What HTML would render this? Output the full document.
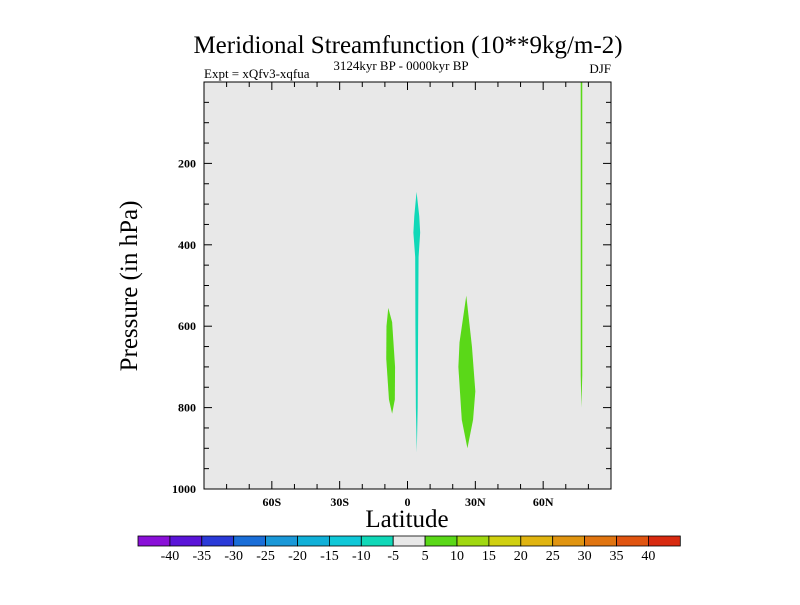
<!DOCTYPE html>
<html><head><meta charset="utf-8"><style>
body{margin:0;background:#fff;}
svg text{font-family:"Liberation Serif",serif;}
</style></head><body>
<svg id="chart" width="800" height="600" viewBox="0 0 800 600" xmlns="http://www.w3.org/2000/svg">
<text x="408" y="53" font-size="25" text-anchor="middle">Meridional Streamfunction (10**9kg/m-2)</text>
<text x="204" y="78" font-size="13">Expt = xQfv3-xqfua</text>
<text x="401" y="70" font-size="13" text-anchor="middle">3124kyr BP - 0000kyr BP</text>
<text x="611" y="73" font-size="13" text-anchor="end">DJF</text>
<rect x="204" y="82" width="407" height="407" fill="#e8e8e8"/>
<g id="marks"></g>
<g id="axes"></g>
<rect x="204" y="82" width="407" height="407" fill="none" stroke="#000" stroke-width="1"/>
<text transform="translate(137,286) rotate(-90)" font-size="25" text-anchor="middle">Pressure (in hPa)</text>
<text x="407" y="527" font-size="25" text-anchor="middle">Latitude</text>
<g id="colorbar"></g>
</svg>
<script>
const xTicks=[-60,-30,0,30,60];
const xTickLabels=["60S","30S","0","30N","60N"];
const yTicks=[200,400,600,800,1000];
const cbLevels=[-40,-35,-30,-25,-20,-15,-10,-5,5,10,15,20,25,30,35,40];
const cbColors=["#8a10d8","#5a14d8","#2a3ad8","#1a6ed8","#1a98d8","#10b0d8","#10c8d8","#10d8b8","#e8e8e8","#5ad818","#a0d810","#d0d010","#e0b410","#e09410","#e07410","#e05410","#d82a10"];
// contour regions: [lat,p] points (clockwise outline)
const cyanLat=[4.0,5.2,5.6,4.9,4.7,4.5,4.1,3.7,3.5,3.4,2.6,3.0];
const cyanP=[270,330,370,430,600,800,910,800,600,430,370,330];
const greenLLat=[-8.5,-6.8,-5.5,-5.6,-6.8,-8.2,-9.4,-9.3];
const greenLP=[555,590,700,780,815,780,680,600];
const greenRLat=[26,28.5,30,29,26.5,24,22.5,23];
const greenRP=[525,650,760,830,900,830,700,640];
const lineLat=[76.6,77.3,77.3,76.9,76.6];
const lineP=[0,0,720,800,720];
const NS="http://www.w3.org/2000/svg";
const X0=204,X1=611,Y0=82,Y1=489;
const sx=l=>X0+(l+90)/180*(X1-X0);
const sy=p=>Y0+p/1000*(Y1-Y0);
function poly(lats,ps,fill,name){
  const el=document.createElementNS(NS,"polygon");
  el.setAttribute("points",lats.map((l,i)=>sx(l)+","+sy(ps[i])).join(" "));
  el.setAttribute("fill",fill);
  
  
  document.getElementById("marks").appendChild(el);
}
poly(cyanLat,cyanP,"#10d8b8","contour-negative-equator");
poly(greenLLat,greenLP,"#5ad818","contour-positive-south");
poly(greenRLat,greenRP,"#5ad818","contour-positive-north");
poly(lineLat,lineP,"#5ad818","contour-positive-polar");
const ax=document.getElementById("axes");
function line(x1,y1,x2,y2,name){
  const l=document.createElementNS(NS,"line");
  l.setAttribute("x1",x1);l.setAttribute("y1",y1);l.setAttribute("x2",x2);l.setAttribute("y2",y2);
  l.setAttribute("stroke","#000");l.setAttribute("stroke-width","1");
  
  
  ax.appendChild(l);
}
function txt(x,y,s,anchor,size,name,parent){
  const t=document.createElementNS(NS,"text");
  t.setAttribute("x",x);t.setAttribute("y",y);t.setAttribute("font-size",size);
  t.setAttribute("text-anchor",anchor);t.setAttribute("font-weight","bold");
  t.textContent=s;
  
  
  parent.appendChild(t);
}
for(let l=-80;l<=80;l+=10){
  const big=l%30===0;const x=sx(l);
  line(x,Y1,x,Y1-(big?8:5),"x-tick");
  line(x,Y0,x,Y0+(big?8:5),"x-tick-top");
}
xTicks.forEach((l,i)=>txt(sx(l),506,xTickLabels[i],"middle",12,"x-tick-label",ax));
for(let p=50;p<1000;p+=50){
  const big=p%200===0;const y=sy(p);
  line(X0,y,X0+(big?8:5),y,"y-tick");
  line(X1,y,X1-(big?8:5),y,"y-tick-right");
}
yTicks.forEach(p=>txt(196,sy(p)+4,String(p),"end",12,"y-tick-label",ax));
const cb=document.getElementById("colorbar");
const cbX=138,cbW=31.9,cbY=536,cbH=10;
cbColors.forEach((c,i)=>{
  const r=document.createElementNS(NS,"rect");
  r.setAttribute("x",cbX+i*cbW);r.setAttribute("y",cbY);r.setAttribute("width",cbW);r.setAttribute("height",cbH);
  r.setAttribute("fill",c);r.setAttribute("stroke","#000");r.setAttribute("stroke-width","0.8");
  
  
  cb.appendChild(r);
});
cbLevels.forEach((v,i)=>{
  const t=document.createElementNS(NS,"text");
  t.setAttribute("x",cbX+(i+1)*cbW);t.setAttribute("y",560);t.setAttribute("font-size",14);
  t.setAttribute("text-anchor","middle");t.textContent=String(v);
  
  
  cb.appendChild(t);
});
</script>
</body></html>
